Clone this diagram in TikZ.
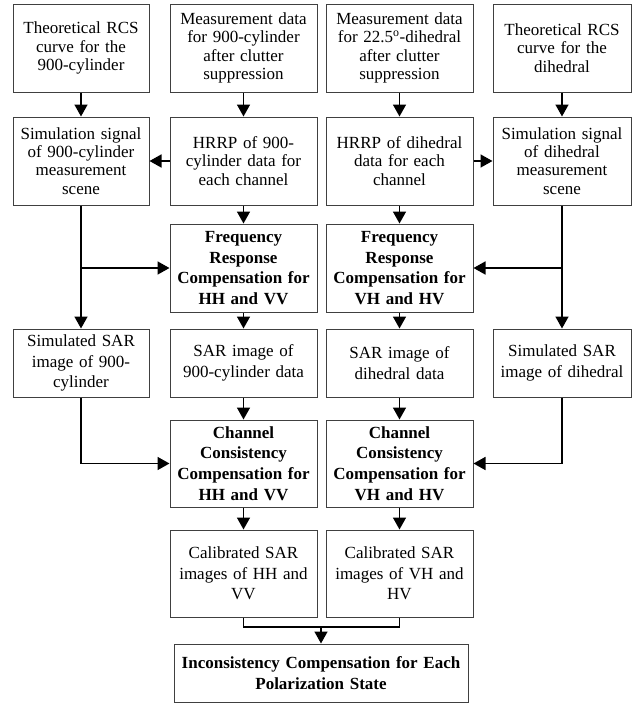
\documentclass[tikz,border=0pt]{standalone}
\usepackage{fontspec}
\setmainfont{Liberation Serif}
\usetikzlibrary{arrows.meta,positioning,calc}

\tikzset{
  blk/.style={draw=black!75, line width=1pt, align=center, inner sep=0pt,
    minimum height=88pt, font=\fontsize{17}{18.3}\selectfont},
  lowblk/.style={blk, font=\fontsize{17}{20.7}\selectfont},
  bblk/.style={blk, font=\fontsize{17}{20.7}\selectfont\bfseries},
  colA/.style={text width=136pt},
  colB/.style={text width=147pt},
  colC/.style={text width=147pt},
  colD/.style={text width=138pt},
  ln/.style={line width=1.6pt},
  arr/.style={ln, -{Triangle[length=12pt,width=13pt]}},
}

\begin{document}
\begin{tikzpicture}[x=1pt,y=-1pt]
\useasboundingbox (0,0) rectangle (644,705);
% inputs
\node[blk,colA] (th1) at (81,48) {Theoretical RCS\\curve for the\\900-cylinder};
\node[blk,colB] (ms1) at (243.5,48) {Measurement data\\for 900-cylinder\\after clutter\\suppression};
\node[blk,colC] (ms2) at (399.5,48) {Measurement data\\for 22.5\textsuperscript{o}-dihedral\\after clutter\\suppression};
\node[blk,colD] (th2) at (562,48) {Theoretical RCS\\curve for the\\dihedral};
% signals and range profiles
\node[blk,colA] (sim1) at (81,161) {Simulation signal\\of 900-cylinder\\measurement\\scene};
\node[blk,colB] (hrrp1) at (243.5,161) {HRRP of 900-\\cylinder data for\\each channel};
\node[blk,colC] (hrrp2) at (399.5,161) {HRRP of dihedral\\data for each\\channel};
\node[blk,colD] (sim2) at (562,161) {Simulation signal\\of dihedral\\measurement\\scene};
% frequency response
\node[bblk,colB] (frq1) at (243.5,268) {Frequency\\Response\\Compensation for\\HH and VV};
\node[bblk,colC] (frq2) at (399.5,268) {Frequency\\Response\\Compensation for\\VH and HV};
% SAR images
\node[lowblk,colA,minimum height=68pt] (sar1) at (81,363) {Simulated SAR\\image of 900-\\cylinder};
\node[lowblk,colB,minimum height=68pt] (img1) at (243.5,363) {SAR image of\\900-cylinder data};
\node[lowblk,colC,minimum height=68pt] (img2) at (399.5,363) {SAR image of\\dihedral data};
\node[lowblk,colD,minimum height=68pt] (sar2) at (562,363) {Simulated SAR\\image of dihedral};
% channel consistency
\node[bblk,colB,minimum height=87pt] (chn1) at (243.5,463.5) {Channel\\Consistency\\Compensation for\\HH and VV};
\node[bblk,colC,minimum height=87pt] (chn2) at (399.5,463.5) {Channel\\Consistency\\Compensation for\\VH and HV};
\node[lowblk,colB,minimum height=87pt] (cal1) at (243.5,573.5) {Calibrated SAR\\images of HH and\\VV};
\node[lowblk,colC,minimum height=87pt] (cal2) at (399.5,573.5) {Calibrated SAR\\images of VH and\\HV};
% output
\node[bblk,text width=294pt,minimum height=58pt] (fin) at (321,673) {Inconsistency Compensation for Each\\Polarization State};

\foreach \a/\b in {th1/sim1, ms1/hrrp1, ms2/hrrp2, th2/sim2, hrrp1/sim1, hrrp2/sim2,
  hrrp1/frq1, hrrp2/frq2, sim1/sar1, sim2/sar2, frq1/img1, frq2/img2,
  img1/chn1, img2/chn2, chn1/cal1, chn2/cal2}
  \draw[arr] (\a) -- (\b);
\draw[arr] (sim1.south |- frq1) -- (frq1);
\draw[arr] (sim2.south |- frq2) -- (frq2);
\draw[arr] (sar1) |- (chn1);
\draw[arr] (sar2) |- (chn2);
\coordinate (mrg) at (321,627);
\draw[ln] (cal1) |- (mrg) -| (cal2);
\draw[arr] (mrg) -- (fin);
\end{tikzpicture}
\end{document}
